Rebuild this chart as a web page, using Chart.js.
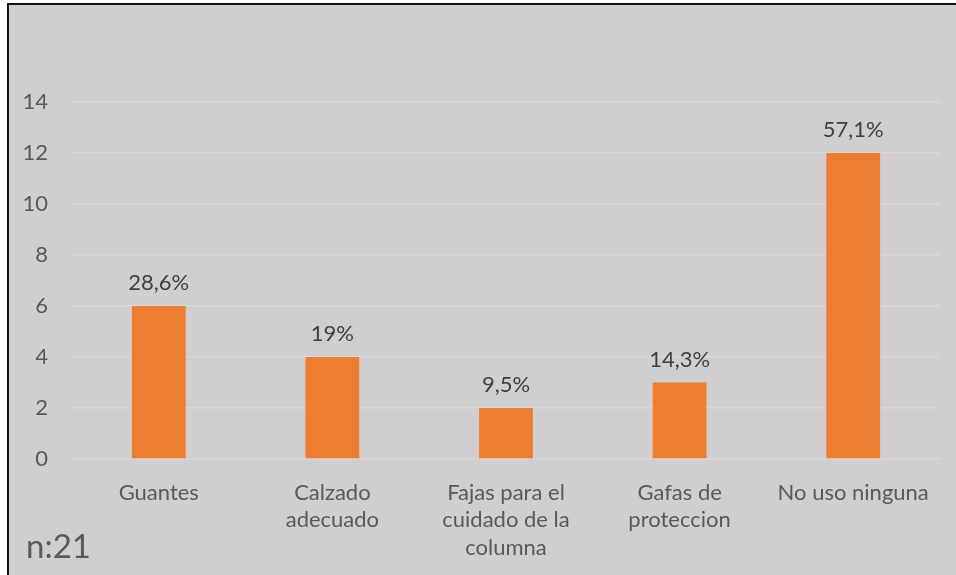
<!DOCTYPE html>
<html>
<head>
<meta charset="utf-8">
<script src="https://cdn.jsdelivr.net/npm/chart.js@4.4.1/dist/chart.umd.min.js"></script>
<style>
  body { margin: 0; background: #ffffff; }
  #frame {
    position: absolute; left: 7px; top: 3px; width: 947px; height: 570px;
    background: #d0cece; border-left: 2px solid #111; border-top: 2px solid #111;
  }
  #chart { position: absolute; left: 0; top: 0; }
  #sample {
    position: absolute; left: 26px; top: 525px;
    font-family: Lato, sans-serif; font-size: 33px; color: #595959;
  }
</style>
</head>
<body>
<div id="frame"></div>
<canvas id="chart" width="956" height="575"></canvas>
<div id="sample">n:21</div>
<script>
const categories = [
    "Guantes",
    ["Calzado", "adecuado"],
    ["Fajas para el", "cuidado de la", "columna"],
    ["Gafas de", "proteccion"],
    "No uso ninguna"
];
const counts = [6, 4, 2, 3, 12];
const percentLabels = ["28,6%", "19%", "9,5%", "14,3%", "57,1%"];
const yTicks = [0, 2, 4, 6, 8, 10, 12, 14];

const fontFamily = "Lato, 'Open Sans', sans-serif";

// percentage text above each bar
const barLabels = {
    id: 'barLabels',
    afterDatasetsDraw(chart) {
        const ctx = chart.ctx;
        const meta = chart.getDatasetMeta(0);
        ctx.save();
        ctx.font = "22px " + fontFamily;
        ctx.fillStyle = "#404040";
        ctx.textAlign = "center";
        ctx.textBaseline = "middle";
        meta.data.forEach((bar, i) => {
            ctx.fillText(percentLabels[i], bar.x, bar.y - 23);
        });
        ctx.restore();
    }
};

new Chart(document.getElementById('chart'), {
    type: 'bar',
    data: {
        labels: categories,
        datasets: [{
            data: counts,
            backgroundColor: "#ed7d31",
            categoryPercentage: 1,
            barPercentage: 0.31
        }]
    },
    options: {
        responsive: false,
        animation: false,
        devicePixelRatio: 1,
        layout: { padding: { left: 0, right: 16, top: 102, bottom: 0 } },
        plugins: { legend: { display: false }, tooltip: { enabled: false } },
        scales: {
            x: {
                grid: { display: false, drawTicks: false },
                border: { display: false },
                ticks: {
                    color: "#595959",
                    padding: 20,
                    maxRotation: 0,
                    autoSkip: false,
                    font: { family: fontFamily, size: 22, lineHeight: 1.25 }
                },
                afterFit(scale) { scale.height = 116; }
            },
            y: {
                min: 0,
                max: 14,
                grid: { color: "#d9d7d7", lineWidth: 1.5, drawTicks: false },
                border: { display: false },
                afterBuildTicks(scale) { scale.ticks = yTicks.map(v => ({ value: v })); },
                ticks: {
                    color: "#595959",
                    padding: 24,
                    font: { family: fontFamily, size: 22 }
                },
                afterFit(scale) { scale.width = 72; }
            }
        }
    },
    plugins: [barLabels]
});
</script>
</body>
</html>
